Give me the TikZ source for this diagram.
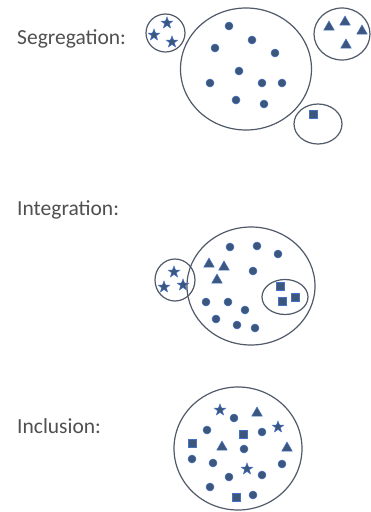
\documentclass[tikz,border=0pt]{standalone}
\usepackage{fontspec}
\setmainfont{Carlito}
\usetikzlibrary{shapes.geometric}

\definecolor{ink}{RGB}{60,86,124}
\definecolor{edge}{RGB}{68,114,196}
\definecolor{ring}{RGB}{80,90,105}
\definecolor{txt}{RGB}{80,80,80}

\begin{document}
\begin{tikzpicture}[x=1pt, y=-1pt]
	\tikzstyle{grp}=[draw=ring, line width=1.2pt, ellipse, inner sep=0pt]
	\tikzstyle{lbl}=[text=txt, anchor=base west, inner sep=0pt, font=\fontsize{21.5}{26}\selectfont]
	\tikzstyle{dot}=[circle, fill=ink, draw=edge, line width=.5pt, inner sep=0pt, minimum size=8pt]
	\tikzstyle{tri}=[regular polygon, regular polygon sides=3, fill=ink, draw=edge, line width=.5pt, inner sep=0pt, minimum size=12pt]
	\tikzstyle{st}=[star, star points=5, star point ratio=2.4, fill=ink, draw=edge, line width=.5pt, inner sep=0pt, minimum size=12pt]
	\tikzstyle{sq}=[rectangle, fill=ink, draw=edge, line width=.5pt, inner sep=0pt, minimum size=7.5pt]
		\useasboundingbox[fill=white] (0,0) rectangle (371,512);
		
		%========================================================================
		% Segregation
		\node[lbl] (segl) at (17,44) {Segregation:};
		
		\node[grp, minimum width=131pt, minimum height=122pt] (segmain) at (246,69) {};
		\node[grp, minimum width=39pt, minimum height=38pt] (segst) at (165.5,33) {};
		\node[grp, minimum width=56pt, minimum height=52pt] (segtri) at (342,34) {};
		\node[grp, minimum width=48pt, minimum height=40pt] (segsq) at (318,124) {};
		
		\node[dot] (sd1) at (229,26) {};
		\node[dot] (sd2) at (215,48) {};
		\node[dot] (sd3) at (252,40) {};
		\node[dot] (sd4) at (275,53) {};
		\node[dot] (sd5) at (239,71) {};
		\node[dot] (sd6) at (210,83) {};
		\node[dot] (sd7) at (262,83) {};
		\node[dot] (sd8) at (282,83) {};
		\node[dot] (sd9) at (236,100) {};
		\node[dot] (sd10) at (264,104) {};
		
		\node[st] (ss1) at (167,23) {};
		\node[st] (ss2) at (154,35) {};
		\node[st] (ss3) at (172,42) {};
		
		\node[tri] (st1) at (329,27) {};
		\node[tri] (st2) at (345,22) {};
		\node[tri] (st3) at (362,31) {};
		\node[tri] (st4) at (346,45) {};
		
		\node[sq] (sq1) at (313,114) {};
		
		%========================================================================
		% Integration
		\node[lbl] (intl) at (17,215) {Integration:};
		
		\node[grp, minimum width=128pt, minimum height=118pt] (intmain) at (251,286) {};
		\node[grp, minimum width=40pt, minimum height=42pt] (intst) at (175,280) {};
		\node[grp, minimum width=46pt, minimum height=35pt] (intsq) at (285,297) {};
		
		\node[dot] (id1) at (230,247) {};
		\node[dot] (id2) at (257,246) {};
		\node[dot] (id3) at (278,254) {};
		\node[dot] (id4) at (253,271) {};
		\node[dot] (id5) at (206,302) {};
		\node[dot] (id6) at (228,302) {};
		\node[dot] (id7) at (245,310) {};
		\node[dot] (id8) at (216,319) {};
		\node[dot] (id9) at (237,325) {};
		\node[dot] (id10) at (255,328) {};
		
		\node[st] (is1) at (174,272) {};
		\node[st] (is2) at (164,287) {};
		\node[st] (is3) at (183,285) {};
		
		\node[tri] (it1) at (209,264) {};
		\node[tri] (it2) at (224,267) {};
		\node[tri] (it3) at (217,280) {};
		
		\node[sq] (iq1) at (280,286) {};
		\node[sq] (iq2) at (295,297) {};
		\node[sq] (iq3) at (282,301) {};
		
		%========================================================================
		% Inclusion
		\node[lbl] (incl) at (17,433) {Inclusion:};
		
		\node[grp, minimum width=128pt, minimum height=123pt] (incmain) at (238,448.5) {};
		
		\node[dot] (nd1) at (234,418) {};
		\node[dot] (nd2) at (207,430) {};
		\node[dot] (nd3) at (262,432) {};
		\node[dot] (nd4) at (244,449) {};
		\node[dot] (nd5) at (192,459) {};
		\node[dot] (nd6) at (213,463) {};
		\node[dot] (nd7) at (282,464) {};
		\node[dot] (nd8) at (229,477) {};
		\node[dot] (nd9) at (262,475) {};
		\node[dot] (nd10) at (210,487) {};
		\node[dot] (nd11) at (253,495) {};
		
		\node[st] (ns1) at (220,410) {};
		\node[st] (ns2) at (278,427) {};
		\node[st] (ns3) at (247,469) {};
		
		\node[tri] (nt1) at (257,413) {};
		\node[tri] (nt2) at (222,447) {};
		\node[tri] (nt3) at (287,448) {};
		
		\node[sq] (nq1) at (243,434) {};
		\node[sq] (nq2) at (192,443) {};
		\node[sq] (nq3) at (236,497) {};
	\end{tikzpicture}
\end{document}
